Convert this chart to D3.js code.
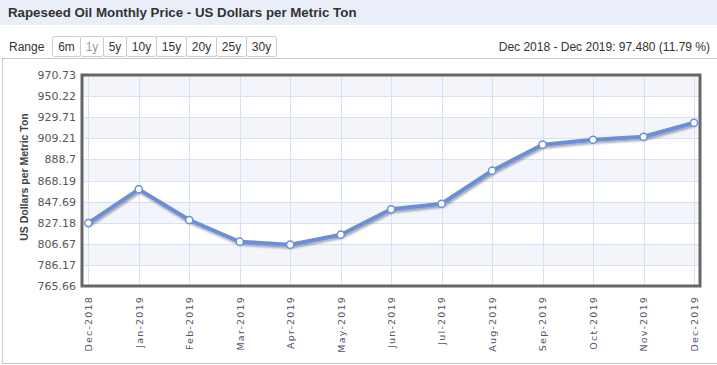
<!DOCTYPE html>
<html><head><meta charset="utf-8">
<script src="https://cdn.jsdelivr.net/npm/d3@7/dist/d3.min.js"></script>
<style>body{margin:0;background:#fff;}svg{display:block;font-family:"Liberation Sans",Arial,sans-serif;}</style>
</head><body>
<script>
const months = ["Dec-2018","Jan-2019","Feb-2019","Mar-2019","Apr-2019","May-2019","Jun-2019","Jul-2019","Aug-2019","Sep-2019","Oct-2019","Nov-2019","Dec-2019"];
const prices = [826.8, 859.6, 829.8, 808.7, 805.8, 815.5, 840.2, 845.6, 877.7, 903.0, 907.8, 910.7, 924.3];
const yTicks = [765.66, 786.17, 806.67, 827.18, 847.69, 868.19, 888.7, 909.21, 929.71, 950.22, 970.73];
const rangeButtons = ["6m","1y","5y","10y","15y","20y","25y","30y"];
const title = "Rapeseed Oil Monthly Price - US Dollars per Metric Ton";
const summary = "Dec 2018 - Dec 2019: 97.480 (11.79 %)";
const yTitle = "US Dollars per Metric Ton";

const W = 717, H = 365;
const plot = {l: 82, r: 700, t: 75, b: 286};
const svg = d3.select("body").append("svg").attr("width", W).attr("height", H);

// title band
svg.append("rect").attr("x",0).attr("y",0).attr("width",W).attr("height",25).attr("fill","#e9eef8");
svg.append("text").attr("x",8).attr("y",17).attr("font-size",13.3).attr("font-weight","bold").attr("fill","#333").text(title);

// outer frame
svg.append("rect").attr("x",2.5).attr("y",58.5).attr("width",W+10).attr("height",305).attr("fill","none").attr("stroke","#c8c8c8");

// range selector
svg.append("text").attr("x",9).attr("y",51).attr("font-size",12).attr("fill","#333").text("Range");
const bw = [28,23,23,30,30,30,30,30];
let bx = 52;
rangeButtons.forEach((b,i)=>{
  const g = svg.append("g");
  g.append("rect").attr("x",bx+0.5).attr("y",36.5).attr("width",bw[i]).attr("height",20).attr("rx",2).attr("fill","#fff").attr("stroke","#ccc");
  g.append("text").attr("x",bx+bw[i]/2+0.5).attr("y",51).attr("text-anchor","middle").attr("font-size",12)
    .attr("fill", b==="1y" ? "#999" : "#333").text(b);
  bx += bw[i];
});
svg.append("text").attr("x",710).attr("y",51).attr("text-anchor","end").attr("font-size",12).attr("fill","#333").text(summary);

// scales
const xs = d3.scaleLinear().domain([0, months.length-1]).range([88.3, 694]);
const y = d3.scaleLinear().domain([yTicks[0], yTicks[yTicks.length-1]]).range([plot.b, plot.t]);

// plot background + bands
svg.append("rect").attr("x",plot.l).attr("y",plot.t).attr("width",plot.r-plot.l).attr("height",plot.b-plot.t).attr("fill","#fff");
for (let i = 0; i < yTicks.length-1; i++) {
  const fromTop = yTicks.length-2-i;
  if (fromTop % 2 === 0) {
    svg.append("rect").attr("x",plot.l).attr("width",plot.r-plot.l)
      .attr("y",y(yTicks[i+1])).attr("height",y(yTicks[i])-y(yTicks[i+1])).attr("fill","#f3f5fb");
  }
}
// grid
svg.append("g").selectAll("line").data(yTicks).join("line")
  .attr("x1",plot.l).attr("x2",plot.r).attr("y1",d=>Math.round(y(d))+0.5).attr("y2",d=>Math.round(y(d))+0.5)
  .attr("stroke","#d6e0f6").attr("stroke-width",1);
svg.append("g").selectAll("line").data(months).join("line")
  .attr("x1",(d,i)=>Math.round(xs(i))+0.5).attr("x2",(d,i)=>Math.round(xs(i))+0.5).attr("y1",plot.t).attr("y2",plot.b)
  .attr("stroke","#d6e0f6").attr("stroke-width",1);

// y axis labels
const yAxis = d3.axisLeft(y).tickValues(yTicks).tickSize(0).tickPadding(6).tickFormat(d=>String(d));
const ya = svg.append("g").attr("transform",`translate(${plot.l},0)`).call(yAxis);
ya.select(".domain").remove();
ya.selectAll("text").attr("font-family","'DejaVu Sans',Verdana,sans-serif").attr("font-size",11).attr("fill","#5a5560");

// y title
svg.append("text").attr("transform","translate(28,177) rotate(-90)").attr("text-anchor","middle")
  .attr("font-size",10.5).attr("font-weight","bold").attr("fill","#444").text(yTitle);

// x axis labels
const xAxis = d3.axisBottom(xs).tickValues(d3.range(months.length)).tickSize(0).tickFormat(i=>months[i]);
const xa = svg.append("g").attr("transform",`translate(0,${plot.b})`).call(xAxis);
xa.select(".domain").remove();
xa.selectAll("text").attr("transform","rotate(-90)").attr("text-anchor","end").attr("dy","0.35em")
  .attr("x",-10).attr("y",0)
  .attr("font-family","'DejaVu Sans',Verdana,sans-serif").attr("font-size",9.5).attr("letter-spacing","1.2px").attr("fill","#5a5068");

// plot border
svg.append("rect").attr("x",plot.l).attr("y",plot.t).attr("width",plot.r-plot.l).attr("height",plot.b-plot.t)
  .attr("fill","none").attr("stroke","#666").attr("stroke-width",3);

// shadow filter
const defs = svg.append("defs");
const f = defs.append("filter").attr("id","sh").attr("x","-10%").attr("y","-10%").attr("width","120%").attr("height","130%");
f.append("feGaussianBlur").attr("in","SourceAlpha").attr("stdDeviation",1.2).attr("result","b");
f.append("feOffset").attr("in","b").attr("dx",1).attr("dy",2).attr("result","o");
f.append("feComponentTransfer").attr("in","o").attr("result","oa").append("feFuncA").attr("type","linear").attr("slope",0.35);
const m = f.append("feMerge"); m.append("feMergeNode").attr("in","oa"); m.append("feMergeNode").attr("in","SourceGraphic");

const line = d3.line().x((d,i)=>xs(i)).y(d=>y(d));
svg.append("path").datum(prices).attr("d",line).attr("fill","none").attr("stroke","#6b8fd9").attr("stroke-width",4)
  .attr("stroke-linejoin","round").attr("filter","url(#sh)");
svg.append("g").selectAll("circle").data(prices).join("circle")
  .attr("cx",(d,i)=>xs(i)).attr("cy",d=>y(d)).attr("r",3.6).attr("fill","#fff").attr("stroke","#6b8fd9").attr("stroke-width",1.5);
</script>
</body></html>
